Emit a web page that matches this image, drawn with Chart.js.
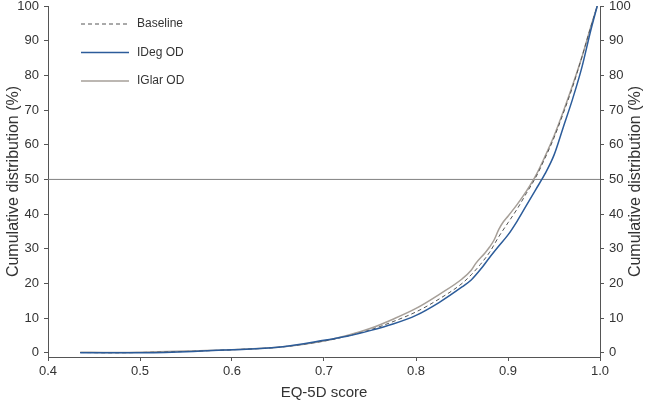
<!DOCTYPE html>
<html>
<head>
<meta charset="utf-8">
<script src="https://cdn.jsdelivr.net/npm/chart.js@4/dist/chart.umd.min.js"></script>
<style>
  html, body { margin: 0; padding: 0; background: #fff; }
  #wrap { width: 649px; height: 406px; }
</style>
</head>
<body>
<div id="wrap"><canvas id="cdfChart"></canvas></div>
<script>
// EQ-5D cumulative distribution
const xTicks = [0.4, 0.5, 0.6, 0.7, 0.8, 0.9, 1.0];
const yTicks = [0, 10, 20, 30, 40, 50, 60, 70, 80, 90, 100];
const refLineY = 50;
const yTitle = 'Cumulative distribution (%)';

const baselineX = [0.435, 0.47, 0.5, 0.55, 0.6, 0.65, 0.7, 0.725, 0.75, 0.775, 0.8, 0.825, 0.85, 0.86, 0.87, 0.88, 0.89, 0.9, 0.91, 0.92, 0.93, 0.94, 0.95, 0.96, 0.97, 0.98, 0.99, 0.997];
const baselineY = [0.1, 0.0, 0.1, 0.4, 0.9, 1.6, 3.4, 4.8, 6.6, 9.0, 11.8, 15.5, 20.0, 22.5, 25.5, 29.0, 33.5, 37.5, 41.5, 46.0, 50.5, 56.0, 62.0, 69.0, 76.5, 85.0, 94.0, 100];

const idegX = [0.435, 0.47, 0.5, 0.55, 0.6, 0.65, 0.7, 0.725, 0.75, 0.775, 0.8, 0.825, 0.85, 0.86, 0.87, 0.88, 0.89, 0.9, 0.91, 0.92, 0.93, 0.94, 0.95, 0.96, 0.97, 0.98, 0.99, 0.997];
const idegY = [0.0, 0.0, 0.0, 0.3, 0.9, 1.6, 3.6, 4.8, 6.4, 8.3, 10.8, 14.5, 19.0, 21.0, 24.0, 27.5, 30.8, 34.0, 38.0, 42.5, 47.0, 51.5, 57.0, 65.0, 73.0, 82.0, 93.0, 100];

const iglarX = [0.435, 0.47, 0.5, 0.55, 0.6, 0.65, 0.7, 0.725, 0.75, 0.775, 0.8, 0.825, 0.85, 0.86, 0.865, 0.875, 0.88, 0.885, 0.89, 0.895, 0.9, 0.91, 0.92, 0.93, 0.94, 0.95, 0.96, 0.97, 0.98, 0.99, 0.997];
const iglarY = [0.2, 0.1, 0.2, 0.5, 0.9, 1.6, 3.4, 5.0, 7.0, 9.7, 12.8, 16.8, 21.3, 23.8, 25.8, 28.8, 30.5, 32.6, 35.6, 37.8, 39.4, 42.8, 46.6, 51.0, 56.5, 62.5, 69.5, 77.0, 85.0, 94.0, 100];

function toPoints(xs, ys) {
    return xs.map(function (x, i) { return { x: x, y: ys[i] }; });
}

const textColor = '#333';
const axisColor = '#555';
const fontFamily = '"Liberation Sans", Arial, Helvetica, sans-serif';

// legend drawn inside the plot, top-left
const insideLegend = {
    id: 'insideLegend',
    afterDatasetsDraw(chart) {
        const ctx = chart.ctx;
        const area = chart.chartArea;
        const items = chart.data.datasets.filter(function (d) { return d.inLegend; });
        ctx.save();
        ctx.font = '12px ' + fontFamily;
        ctx.textBaseline = 'middle';
        items.forEach(function (d, i) {
            const y = area.top + 18 + i * 28.5;
            const x0 = area.left + 33;
            ctx.strokeStyle = d.borderColor;
            ctx.lineWidth = d.borderWidth;
            ctx.setLineDash(d.borderDash || []);
            ctx.beginPath();
            ctx.moveTo(x0, y);
            ctx.lineTo(x0 + 48, y);
            ctx.stroke();
            ctx.setLineDash([]);
            ctx.fillStyle = textColor;
            ctx.fillText(d.label, x0 + 56, y);
        });
        ctx.restore();
    }
};

// right-hand axis title, reading bottom to top like the left one
const rightTitle = {
    id: 'rightTitle',
    afterDraw(chart) {
        const ctx = chart.ctx;
        const area = chart.chartArea;
        ctx.save();
        ctx.translate(chart.width - 13, (area.top + area.bottom) / 2);
        ctx.rotate(-Math.PI / 2);
        ctx.font = '16px ' + fontFamily;
        ctx.fillStyle = textColor;
        ctx.textAlign = 'center';
        ctx.textBaseline = 'middle';
        ctx.fillText(yTitle, 0, 0);
        ctx.restore();
    }
};

function yAxis(position, width, showTitle) {
    return {
        type: 'linear',
        position: position,
        min: -1.2,
        max: 100,
        afterBuildTicks: function (s) { s.ticks = yTicks.map(function (v) { return { value: v }; }); },
        afterFit: function (s) { s.width = width; s.paddingTop = 0; s.paddingBottom = 0; },
        ticks: { color: textColor, font: { family: fontFamily, size: 13 }, padding: 5 },
        grid: { drawOnChartArea: false, tickLength: 4, color: axisColor },
        border: { color: axisColor, width: 1 },
        title: { display: showTitle, text: yTitle, color: textColor, font: { family: fontFamily, size: 16 } }
    };
}

new Chart(document.getElementById('cdfChart'), {
    type: 'scatter',
    data: {
        datasets: [
            {
                label: 'Reference',
                data: [{ x: xTicks[0], y: refLineY }, { x: xTicks[xTicks.length - 1], y: refLineY }],
                showLine: true, borderColor: '#808080', borderWidth: 1, pointRadius: 0, inLegend: false, order: 4
            },
            {
                label: 'Baseline',
                data: toPoints(baselineX, baselineY),
                showLine: true, borderColor: '#555', borderWidth: 1, borderDash: [4, 3], pointRadius: 0,
                cubicInterpolationMode: 'monotone', inLegend: true, order: 2
            },
            {
                label: 'IDeg OD',
                data: toPoints(idegX, idegY),
                showLine: true, borderColor: '#2c5c9a', borderWidth: 1.5, pointRadius: 0,
                cubicInterpolationMode: 'monotone', inLegend: true, order: 1
            },
            {
                label: 'IGlar OD',
                data: toPoints(iglarX, iglarY),
                showLine: true, borderColor: '#a69f98', borderWidth: 1.5, pointRadius: 0,
                cubicInterpolationMode: 'monotone', inLegend: true, order: 3
            }
        ]
    },
    options: {
        responsive: true,
        maintainAspectRatio: false,
        animation: false,
        layout: { padding: { top: 6, left: 0, right: 0, bottom: 0 } },
        plugins: { legend: { display: false }, tooltip: { enabled: false } },
        scales: {
            x: {
                type: 'linear',
                min: 0.4,
                max: 1.0,
                afterBuildTicks: function (s) { s.ticks = xTicks.map(function (v) { return { value: v }; }); },
                afterFit: function (s) { s.height = 49; s.paddingLeft = 0; s.paddingRight = 0; },
                ticks: {
                    color: textColor, font: { family: fontFamily, size: 13 }, padding: 3,
                    callback: function (v) { return Number(v).toFixed(1); }
                },
                grid: { drawOnChartArea: false, tickLength: 4, color: axisColor },
                border: { color: axisColor, width: 1 },
                title: { display: true, text: 'EQ-5D score', color: textColor, font: { family: fontFamily, size: 15 } }
            },
            y: yAxis('left', 48, true),
            y2: yAxis('right', 49, false)
        }
    },
    plugins: [insideLegend, rightTitle]
});
</script>
</body>
</html>
